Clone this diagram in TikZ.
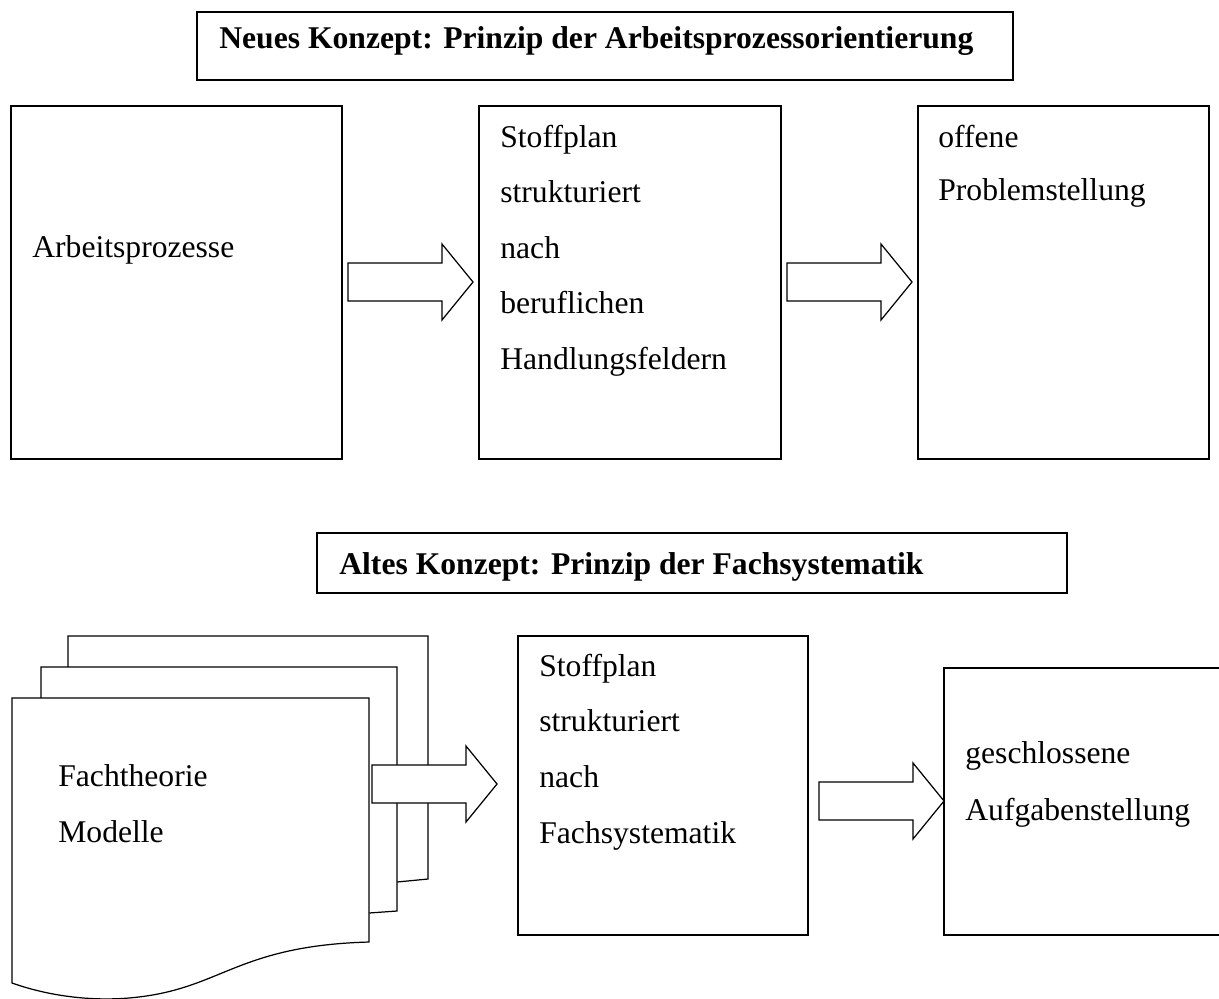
\documentclass[tikz,border=0pt]{standalone}
\usepackage{fontspec}
\setmainfont{Liberation Serif}
\tikzset{
  txt/.style={anchor=base west, inner sep=0pt, font=\fontsize{18}{20}\selectfont},
  ttl/.style={txt, font=\bfseries\fontsize{18}{20}\selectfont},
  frame/.style={line width=0.7pt},
}
% block arrow: start x, tip x, centre y
\newcommand\blockarrow[3]{%
  \draw[frame, fill=white] (#1,#3-19) -- (#2-31,#3-19) -- (#2-31,#3-38) -- (#2,#3)
    -- (#2-31,#3+38) -- (#2-31,#3+19) -- (#1,#3+19) -- cycle;}

\begin{document}
\begin{tikzpicture}[x=0.02cm, y=-0.02cm]
    \useasboundingbox (0,0) rectangle (1219,998);

    % neues Konzept
    \coordinate (Tnw) at (197, 12);
    \coordinate (Tse) at (1013, 80);
    \coordinate (Anw) at (11, 106);
    \coordinate (Ase) at (342, 459);
    \coordinate (Snw) at (479, 106);
    \coordinate (Sse) at (781, 459);
    \coordinate (Onw) at (918, 106);
    \coordinate (Ose) at (1209, 459);

    % altes Konzept
    \coordinate (Tpnw) at (317, 533);
    \coordinate (Tpse) at (1067, 593);
    \coordinate (Spnw) at (518, 636);
    \coordinate (Spse) at (808, 935);
    \coordinate (Gpnw) at (944, 668);
    \coordinate (Gpse) at (1230, 935);

    \draw[frame] (Tnw) rectangle (Tse);
    \draw[frame] (Anw) rectangle (Ase);
    \draw[frame] (Snw) rectangle (Sse);
    \draw[frame] (Onw) rectangle (Ose);

    \draw[frame] (Tpnw) rectangle (Tpse);
    \draw[frame] (Spnw) rectangle (Spse);
    \draw[frame] (Gpnw) rectangle (Gpse);

    % Dokumentenstapel
    \draw[frame, fill=white] (68, 636) -- (428, 636) -- (428, 879) -- (397, 882)
      -- (68, 890) -- cycle;
    \draw[frame, fill=white] (41, 667) -- (397, 667) -- (397, 911) -- (369, 913)
      -- (41, 920) -- cycle;
    \draw[frame, fill=white] (12, 698) -- (369, 698) -- (369, 942)
      .. controls (260, 945) and (230, 975) .. (175, 990)
      .. controls (120, 1005) and (60, 1000) .. (12, 983) -- cycle;

    \blockarrow{348}{473}{282}
    \blockarrow{787}{912}{282}
    \blockarrow{372}{497}{784}
    \blockarrow{819}{944}{801}

    \draw[ttl] (219, 48) node (Neu) {Neues Konzept: Prinzip der Arbeitsprozessorientierung};
    \draw[txt] (32, 257) node (Arb) {Arbeitsprozesse};

    \draw[txt] (500, 147) node (Sa) {Stoffplan};
    \draw[txt] (500, 202) node (Sb) {strukturiert};
    \draw[txt] (500, 258) node (Sc) {nach};
    \draw[txt] (500, 313) node (Sd) {beruflichen};
    \draw[txt] (500, 369) node (Se) {Handlungsfeldern};

    \draw[txt] (938, 147) node (Oa) {offene};
    \draw[txt] (938, 200) node (Ob) {Problemstellung};

    \draw[ttl] (339, 574) node (Alt) {Altes Konzept: Prinzip der Fachsystematik};

    \draw[txt] (58, 786) node (Fa) {Fachtheorie};
    \draw[txt] (58, 842) node (Fb) {Modelle};

    \draw[txt] (539, 676) node (Spa) {Stoffplan};
    \draw[txt] (539, 731) node (Spb) {strukturiert};
    \draw[txt] (539, 787) node (Spc) {nach};
    \draw[txt] (539, 843) node (Spd) {Fachsystematik};

    \draw[txt] (965, 763) node (Ga) {geschlossene};
    \draw[txt] (965, 820) node (Gb) {Aufgabenstellung};
  \end{tikzpicture}
\end{document}
